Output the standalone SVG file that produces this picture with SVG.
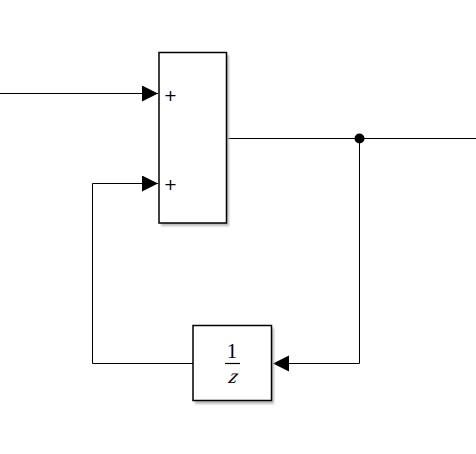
<svg xmlns="http://www.w3.org/2000/svg" width="476" height="454" viewBox="0 0 476 454">
<style>
.blk{fill:#fff;stroke:#000;stroke-width:1.5}
.sh{fill:#bbb;filter:url(#blur)}
.ln{fill:none;stroke:#000;stroke-width:1}
.pl{font-family:"DejaVu Sans",sans-serif;font-size:16px;fill:#000}
.tx{font-family:"Liberation Serif","Times New Roman",serif;font-size:21px;fill:#000}
.it{font-style:italic}
</style>
<defs>
<filter id="blur" x="-20%" y="-20%" width="140%" height="140%"><feGaussianBlur stdDeviation="1.2"/></filter>
<marker id="ah" markerWidth="17" markerHeight="17" refX="16" refY="8" orient="auto" markerUnits="userSpaceOnUse">
<path d="M0,0 L16,8 L0,16 Z" fill="#000"/>
</marker>
</defs>
<g id="connectors">
<path class="ln" d="M0,93.5 H158" marker-end="url(#ah)"/>
<path class="ln" d="M227,138.5 H476"/>
<path class="ln" d="M359.5,138.5 V363.5 H273" marker-end="url(#ah)"/>
<path class="ln" d="M193,363.5 H92.5 V183.5 H158" marker-end="url(#ah)"/>
<circle cx="359.5" cy="138.5" r="5" fill="#000"/>
</g>
<g id="sum">
<rect class="sh" x="161" y="55" width="68" height="171"/>
<rect class="blk" x="159" y="52.5" width="67.5" height="170.5"/>
<text class="pl" x="170.5" y="101" text-anchor="middle">+</text>
<text class="pl" x="170.5" y="190" text-anchor="middle">+</text>
</g>
<g id="delay">
<rect class="sh" x="195" y="328" width="79" height="76"/>
<rect class="blk" x="193" y="325.5" width="78.5" height="75"/>
<text class="tx" x="232" y="358" text-anchor="middle">1</text>
<line x1="225" y1="363.5" x2="240" y2="363.5" stroke="#000" stroke-width="1.2"/>
<g transform="translate(232,383) skewX(-15)"><text class="tx it" x="0" y="0" text-anchor="middle">z</text></g>
</g>
</svg>
